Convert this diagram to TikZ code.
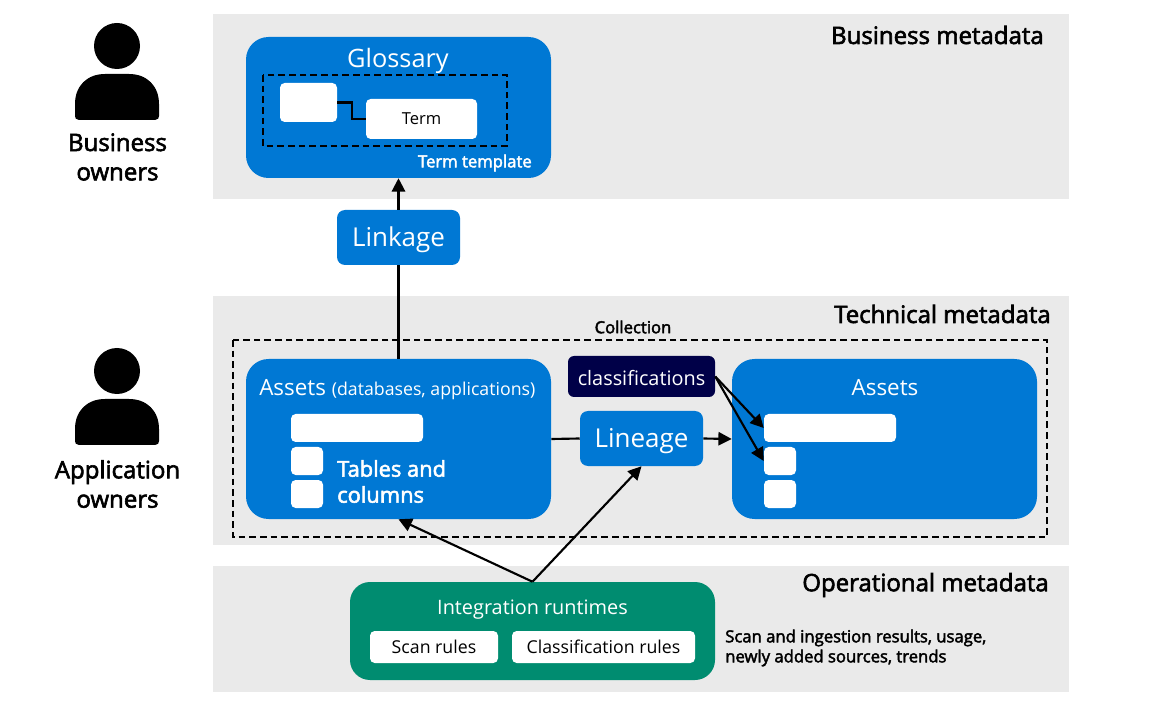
\documentclass[tikz,border=0pt]{standalone}
\usepackage{fontspec}
\setmainfont{Open Sans}
\newfontfamily\semifont[FakeBold=2.5]{Open Sans}
\usetikzlibrary{arrows.meta}
\definecolor{bandgray}{HTML}{EAEAEA}
\definecolor{azblue}{HTML}{0078D4}
\definecolor{aznavy}{HTML}{000048}
\definecolor{azgreen}{HTML}{008C70}
\tikzset{
 bigbox/.style={fill=azblue,rounded corners=16.9pt,inner sep=0pt,minimum width=228.75pt},
 midbox/.style={fill=azblue,text=white,rounded corners=6pt,inner sep=0pt,minimum width=92.25pt,minimum height=41.25pt,text height=13.5pt,text depth=0.5pt,font=\fontsize{19.5}{22}\selectfont},
 whitebox/.style={fill=white,rounded corners=3.5pt,inner sep=0pt},
 frame/.style={draw=black,dashed,line width=1.3pt,dash pattern=on 5pt off 3pt},
 link/.style={draw=black,line width=1.6pt},
 arrow/.style={link,-{Triangle[length=10pt,width=10pt]}},
 title/.style={anchor=east,inner sep=0pt,font=\fontsize{18}{20}\semifont},
 owner/.style={align=center,font=\fontsize{18}{22}\semifont},
 person/.style={fill=black,draw=none}
}
\begin{document}
\begin{tikzpicture}[x=0.75pt,y=-0.75pt]
 \useasboundingbox (0,0) rectangle (1154,709);
 % bands
 \fill[bandgray] (213,14) rectangle (1069,199);
 \fill[bandgray] (213,296) rectangle (1069,545);
 \fill[bandgray] (213,566) rectangle (1069,692);
 \node[title] (business) at (1044,35) {Business metadata};
 \node[title] (technical) at (1051,314) {Technical metadata};
 \node[title] (operational) at (1049,585) {Operational metadata};
 % people
 \fill[person] (117,46) circle (23);
 \fill[person] (75,116) -- (75,104) .. controls (75,86) and (87,74) .. (105,74) -- (129,74) .. controls (147,74) and (159,86) .. (159,104) -- (159,116) .. controls (159,118) and (158,120) .. (155,120) -- (79,120) .. controls (76,120) and (75,118) .. (75,116) -- cycle;
 \fill[person] (117,371) circle (23);
 \fill[person] (75,441) -- (75,429) .. controls (75,411) and (87,399) .. (105,399) -- (129,399) .. controls (147,399) and (159,411) .. (159,429) -- (159,441) .. controls (159,443) and (158,445) .. (155,445) -- (79,445) .. controls (76,445) and (75,443) .. (75,441) -- cycle;
 \node[owner] (bowners) at (117.5,157) {Business\\owners};
 \node[owner] (aowners) at (117.5,484) {Application\\owners};
 % glossary
 \node[bigbox,minimum height=105.75pt] (glossary) at (398.5,107.5) {};
 \node[text=white,font=\fontsize{19}{22}\selectfont] (glossarytext) at (398,61) {Glossary};
 \draw[frame] (263,75) rectangle (507,146);
 \node[whitebox,minimum width=42.75pt,minimum height=29.25pt] (tsmall) at (308.5,102.5) {};
 \node[whitebox,minimum width=83.25pt,minimum height=30pt,font=\fontsize{12.4}{14}\selectfont] (term) at (421.5,119) {Term};
 \draw[link] (tsmall.east) -- ++(15,0) |- (term.west);
 \node[anchor=east,inner sep=0pt,text=white,font=\fontsize{12.5}{14}\semifont] (ttemplate) at (532,163) {Term template};
 % linkage
 \node[midbox] (linkage) at (398.5,237.5) {Linkage};
 % collection
 \draw[frame] (233,340) rectangle (1047,537);
 \node[font=\fontsize{12.5}{14}\semifont] (collection) at (633,327) {Collection};
 % assets left
 \node[bigbox,minimum height=120pt] (assetsl) at (398.5,439) {};
 \node[anchor=west,inner sep=0pt,text=white,font=\fontsize{16.8}{18}\selectfont] (assetsltext) at (259,390) {Assets \fontsize{13.3}{16}\selectfont(databases, applications)};
 \node[whitebox,minimum width=99pt,minimum height=21pt] (lbar) at (357,428) {};
 \node[whitebox,minimum width=24pt,minimum height=21pt] (lsq) at (307,461) {};
 \node[whitebox,minimum width=24pt,minimum height=21pt] (lsqb) at (307,494) {};
 \node[anchor=west,inner sep=0pt,align=left,text=white,font=\fontsize{16.4}{19.5}\semifont] (tables) at (337,481.5) {Tables and\\columns};
 % classifications, lineage
 \node[fill=aznavy,text=white,rounded corners=4.5pt,inner sep=0pt,minimum width=110.25pt,minimum height=30.75pt,text height=13pt,text depth=0pt,font=\fontsize{14.9}{17}\selectfont] (classif) at (641.5,376.5) {classifications};
 \node[midbox] (lineage) at (641.5,438.5) {Lineage};
 % assets right
 \node[bigbox,minimum height=120pt] (assetsr) at (884.5,439) {};
 \node[text=white,font=\fontsize{16.8}{18}\selectfont] (assetsrtext) at (885,388) {Assets};
 \node[whitebox,minimum width=99pt,minimum height=21pt] (rbar) at (830,428) {};
 \node[whitebox,minimum width=24pt,minimum height=21pt] (rsq) at (780,461) {};
 \node[whitebox,minimum width=24pt,minimum height=21pt] (rsqb) at (780,494) {};
 % runtimes
 \node[fill=azgreen,rounded corners=15pt,inner sep=0pt,minimum width=273.75pt,minimum height=73.5pt] (runtime) at (532.5,631) {};
 \node[text=white,font=\fontsize{14.9}{17}\selectfont] (runtimetext) at (532.5,609.5) {Integration runtimes};
 \node[whitebox,minimum width=96pt,minimum height=24pt,font=\fontsize{13.3}{16}\selectfont] (scan) at (434,647) {Scan rules};
 \node[whitebox,minimum width=137.25pt,minimum height=24pt,font=\fontsize{13.3}{16}\selectfont] (classrules) at (603.5,647) {Classification rules};
 \node[anchor=west,inner sep=0pt,align=left,font=\fontsize{12.5}{15}\semifont] (results) at (725,648) {Scan and ingestion results, usage,\\newly added sources, trends};
 % connectors
 \draw[arrow] (linkage.north) -- (glossary.south);
 \draw[link] (assetsl.north) -- (linkage.south);
 \draw[link] (assetsl.east) -- (lineage.west);
 \draw[arrow] (lineage.east) -- (assetsr.west);
 \draw[arrow] (classif.east) -- (rbar.west);
 \draw[arrow] (classif.east) -- (rsq.west);
 \draw[arrow] (runtime.north) -- (lineage.south);
 \draw[arrow] (runtime.north) -- (assetsl.south);
\end{tikzpicture}
\end{document}
